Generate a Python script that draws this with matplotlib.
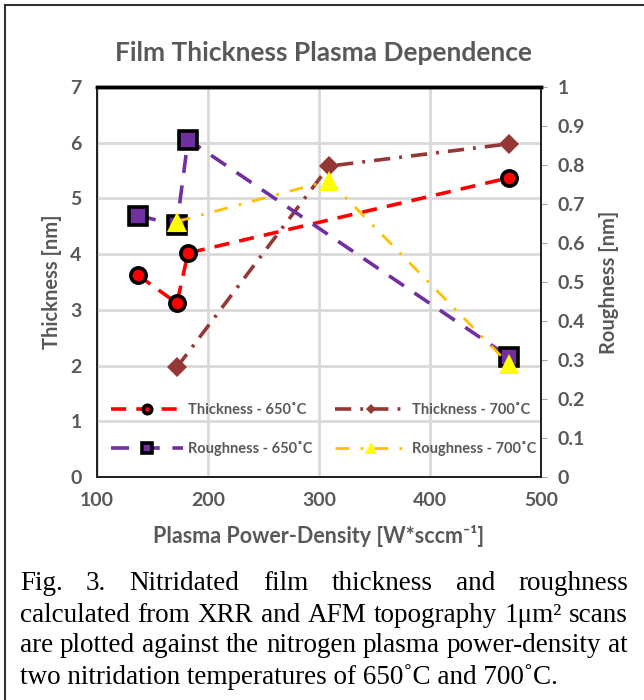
import matplotlib
matplotlib.use("Agg")
import matplotlib.pyplot as plt
from matplotlib.lines import Line2D

# data
thk650_x = [137, 172, 182, 471]
thk650_y = [3.62, 3.12, 4.02, 5.37]
thk700_x = [172, 309, 471]
thk700_y = [1.97, 5.58, 5.98]
rgh650_x = [137, 172, 182, 471]
rgh650_y = [0.67, 0.647, 0.865, 0.308]
rgh700_x = [172, 309, 471]
rgh700_y = [0.655, 0.76, 0.29]

xticks = [100, 200, 300, 400, 500]
yticks_left = [0, 1, 2, 3, 4, 5, 6, 7]
yticks_right = [0, 0.1, 0.2, 0.3, 0.4, 0.5, 0.6, 0.7, 0.8, 0.9, 1]

caption = ["Fig. 3. Nitridated film thickness and roughness",
           "calculated from XRR and AFM topography 1\u03bcm\u00b2 scans",
           "are plotted against the nitrogen plasma power-density at",
           "two nitridation temperatures of 650\u02daC and 700\u02daC."]

W, H = 644, 700
grey = "#595959"
sans = ["Lato", "DejaVu Sans"]
plt.rcParams["font.family"] = sans

fig = plt.figure(figsize=(W / 100, H / 100), dpi=100)
ax = fig.add_axes([97 / W, 1 - 477 / H, 444 / W, 390 / H])
ax2 = ax.twinx()

ax.set_xlim(100, 500)
ax.set_ylim(0, 7)
ax2.set_ylim(0, 1)
ax.set_xticks(xticks)
ax.set_yticks(yticks_left)
ax2.set_yticks(yticks_right)
ax2.set_yticklabels(["0" if v == 0 else "1" if v == 1 else f"{v:g}" for v in yticks_right])

ax.grid(True, color="#d9d9d9", lw=2)
ax.set_axisbelow(True)
for a in (ax, ax2):
    for s in a.spines.values():
        s.set_color("#222222")
        s.set_linewidth(1.3)
    a.spines["top"].set_linewidth(2.5)
    a.spines["top"].set_color("black")
ax.tick_params(axis="both", length=0, labelsize=14, labelcolor=grey, pad=11)
ax2.tick_params(axis="y", length=4, color="#a6a6a6", labelsize=14, labelcolor=grey, pad=8)
for lab in ax.get_xticklabels() + ax.get_yticklabels() + ax2.get_yticklabels():
    lab.set_fontweight("bold")

l1, = ax.plot(thk650_x, thk650_y, color="red", lw=2.6, ls=(0, (4.2, 2.8)),
              marker="o", ms=11, mfc="red", mec="black", mew=2.6,
              label="Thickness - 650\u02daC")
l2, = ax.plot(thk700_x, thk700_y, color="#953735", lw=2.6, ls=(0, (4.5, 2.5, 0.8, 2.5)),
              marker="D", ms=10, mfc="#953735", mec="#953735", mew=0,
              label="Thickness - 700\u02daC")
l3, = ax2.plot(rgh650_x, rgh650_y, color="#7030a0", lw=2.6, ls=(0, (5, 3.5)),
               marker="s", ms=12.5, mfc="#7030a0", mec="black", mew=2.6,
               label="Roughness - 650\u02daC")
l4, = ax2.plot(rgh700_x, rgh700_y, color="#ffc000", lw=2.0, ls=(0, (5, 4, 1, 4)),
               marker="^", ms=15, mfc="#ffff00", mec="#ffff00", mew=0,
               label="Roughness - 700\u02daC")

ax.set_ylabel("Thickness [nm]", fontsize=14.5, fontweight="bold", color=grey, labelpad=6)
ax2.set_ylabel("Roughness [nm]", fontsize=14.5, fontweight="bold", color=grey, labelpad=10)
ax.set_xlabel("Plasma Power-Density [W*sccm\u207b\u00b9]", fontsize=15.5,
              fontweight="bold", color=grey, labelpad=11)
fig.text(324 / W, 1 - 53 / H, "Film Thickness Plasma Dependence", fontsize=19,
         fontweight="bold", color=grey, ha="center", va="center")

leg = ax2.legend(handles=[l1, l3, l2, l4], ncol=2, frameon=False, numpoints=1,
                 loc="upper left", bbox_to_anchor=(98 / W, 1 - 390 / H),
                 bbox_transform=fig.transFigure, handlelength=4.9, markerscale=0.55,
                 handletextpad=0.4, columnspacing=1.5, labelspacing=1.65,
                 prop={"family": sans, "weight": "bold", "size": 10.5})
for t in leg.get_texts():
    t.set_color(grey)

# outer frame of the figure panel
fig.add_artist(Line2D([4.5 / W, 4.5 / W], [0, 1 - 5 / H], transform=fig.transFigure,
                      color="#333333", lw=1.5))
fig.add_artist(Line2D([4.5 / W, 1], [1 - 5 / H, 1 - 5 / H], transform=fig.transFigure,
                      color="#333333", lw=1.5))

# justified caption
cap_kw = dict(fontsize=19.5, family="Liberation Serif", va="center", ha="left", color="black")
renderer = fig.canvas.get_renderer()
x0, x1 = 20, 628
for i, line in enumerate(caption):
    y = 1 - (584 + 31 * i) / H
    if i == len(caption) - 1:
        fig.text(x0 / W, y, line, **cap_kw)
        continue
    words = line.split()
    texts = [fig.text(0, y, w, **cap_kw) for w in words]
    widths = [t.get_window_extent(renderer).width for t in texts]
    gap = (x1 - x0 - sum(widths)) / (len(words) - 1)
    x = x0
    for t, w in zip(texts, widths):
        t.set_x(x / W)
        x += w + gap

fig.savefig("out.png", dpi=100)
